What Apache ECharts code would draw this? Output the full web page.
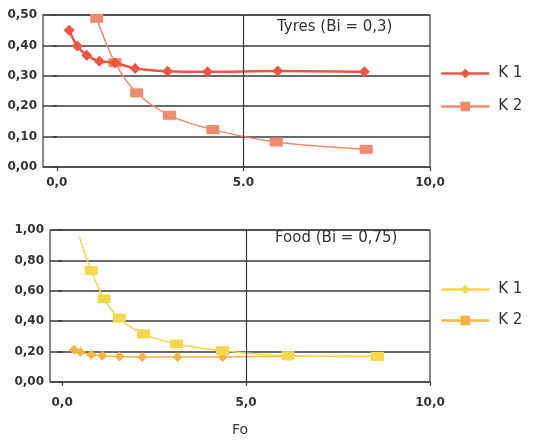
<!DOCTYPE html>
<html><head><meta charset="utf-8">
<script src="https://cdn.jsdelivr.net/npm/echarts@6/dist/echarts.min.js"></script>
<style>html,body{margin:0;padding:0;background:#fff}#c{width:533px;height:443px}</style>
</head><body><div id="c"></div>
<script>
// Tyres (Bi = 0,3)
const tyresK1Fo = [0.33, 0.55, 0.80, 1.14, 1.56, 2.10, 2.97, 4.04, 5.92, 8.24];
const tyresK1   = [0.450, 0.398, 0.368, 0.348, 0.343, 0.324, 0.315, 0.313, 0.316, 0.313];
const tyresK2Fo = [1.07, 1.56, 2.14, 3.02, 4.18, 5.88, 8.29];
const tyresK2   = [0.489, 0.343, 0.244, 0.170, 0.123, 0.082, 0.058];
// Food (Bi = 0,75)
const foodK1Fo = [0.32, 0.50, 0.79, 1.09, 1.56, 2.18, 3.14, 4.36, 6.14, 8.57];
const foodK1   = [0.212, 0.197, 0.179, 0.173, 0.168, 0.164, 0.164, 0.164, 0.170, 0.168];
const foodK2Fo = [0.47, 0.79, 1.14, 1.55, 2.21, 3.11, 4.36, 6.14, 8.57];
const foodK2   = [0.956, 0.733, 0.547, 0.420, 0.317, 0.250, 0.206, 0.173, 0.168];
// axis ticks
const xTicks = [0, 5, 10];
const xTickLabelsTop = ['0,0', '5.0', '10,0'];
const xTickLabelsBottom = ['0,0', '5,0', '10,0'];
const titles = ['Tyres (Bi = 0,3)', 'Food (Bi = 0,75)'];
const xName = 'Fo';

const zip = (xs, ys) => xs.map((x, i) => [x, ys[i]]);
const font = '"DejaVu Sans", "Liberation Sans", sans-serif';
const grid = '#3a3a3a';
const cTK1 = '#ee5540', cTK2 = '#f08a6c', cFY = '#f2d84c', cFO = '#f2b444';

function xAxis(gi, min, labels, margin) {
  return {
    type: 'value', gridIndex: gi, min: min, max: 10,
    axisLine: {show: false},
    splitLine: {show: false},
    axisTick: {show: true, customValues: xTicks, length: 4, lineStyle: {color: grid, width: 1.2}},
    axisLabel: {customValues: xTicks, formatter: v => labels[xTicks.indexOf(v)] || '',
      color: '#333', fontFamily: font, fontSize: 12, fontWeight: 'bold', margin: margin}
  };
}
function yAxis(gi, max, interval) {
  return {
    type: 'value', gridIndex: gi, min: 0, max: max, interval: interval,
    axisLine: {show: false},
    axisTick: {show: true, length: 4, lineStyle: {color: grid, width: 1.6}},
    splitLine: {show: true, lineStyle: {color: grid, width: 1.6}},
    axisLabel: {formatter: v => v.toFixed(2).replace('.', ','), color: '#333',
      fontFamily: font, fontSize: 12, fontWeight: 'bold', margin: 6}
  };
}
const vline = {silent: true, symbol: 'none', label: {show: false},
  lineStyle: {color: grid, width: 1.2, type: 'solid'}, data: [{xAxis: 5}]};
const legendText = {fontFamily: font, fontSize: 15, color: '#333', padding: [0, 0, 0, 4]};

const option = {
  animation: false,
  backgroundColor: '#fff',
  grid: [
    {left: 43, top: 15, width: 387, height: 152, show: true, borderColor: grid, borderWidth: 1.2},
    {left: 50, top: 230, width: 380, height: 152, show: true, borderColor: grid, borderWidth: 1.2}
  ],
  xAxis: [xAxis(0, -0.37, xTickLabelsTop, 10), xAxis(1, -0.33, xTickLabelsBottom, 15)],
  yAxis: [yAxis(0, 0.5, 0.1), yAxis(1, 1.0, 0.2)],
  legend: [
    {orient: 'vertical', left: 440, top: 66, padding: 0, itemWidth: 48, itemHeight: 12, itemGap: 18,
     data: [{name: 'T1', lineStyle: {width: 2.5}}, {name: 'T2', lineStyle: {width: 2.5}}],
     formatter: n => 'K ' + n.slice(1), textStyle: legendText},
    {orient: 'vertical', left: 440, top: 282, padding: 0, itemWidth: 48, itemHeight: 12, itemGap: 16,
     data: [{name: 'F1', itemStyle: {color: cFY}, lineStyle: {color: cFY, width: 2.5}},
            {name: 'F2', itemStyle: {color: cFO}, lineStyle: {color: cFO, width: 2.5}}],
     formatter: n => 'K ' + n.slice(1), textStyle: legendText}
  ],
  graphic: [
    {type: 'text', left: 277, top: 20, style: {text: titles[0], font: '15px ' + font, fill: '#333'}},
    {type: 'text', left: 275, top: 231, style: {text: titles[1], font: '15px ' + font, fill: '#333'}},
    {type: 'text', left: 232, top: 423, style: {text: xName, font: '14px ' + font, fill: '#333'}}
  ],
  series: [
    {name: 'T2', type: 'line', xAxisIndex: 0, yAxisIndex: 0, smooth: 0.35,
     data: zip(tyresK2Fo, tyresK2), symbol: 'rect', symbolSize: [13, 9],
     lineStyle: {color: cTK2, width: 1.5}, itemStyle: {color: cTK2}, z: 3,
     markLine: vline},
    {name: 'T1', type: 'line', xAxisIndex: 0, yAxisIndex: 0, smooth: 0.35,
     data: zip(tyresK1Fo, tyresK1), symbol: 'diamond', symbolSize: 11,
     lineStyle: {color: cTK1, width: 2.5}, itemStyle: {color: cTK1}, z: 4},
    {name: 'F1', type: 'line', xAxisIndex: 1, yAxisIndex: 1, smooth: 0.35,
     data: zip(foodK1Fo, foodK1), symbol: 'diamond', symbolSize: 10,
     lineStyle: {color: cFO, width: 1.5}, itemStyle: {color: cFO}, z: 3,
     markLine: vline},
    {name: 'F2', type: 'line', xAxisIndex: 1, yAxisIndex: 1, smooth: 0.35,
     data: zip(foodK2Fo, foodK2).map((p, i) => i === 0 ? {value: p, symbolSize: 0} : p),
     symbol: 'rect', symbolSize: [13, 9],
     lineStyle: {color: cFY, width: 1.5}, itemStyle: {color: cFY}, z: 4}
  ]
};
echarts.init(document.getElementById('c')).setOption(option);
</script></body></html>
